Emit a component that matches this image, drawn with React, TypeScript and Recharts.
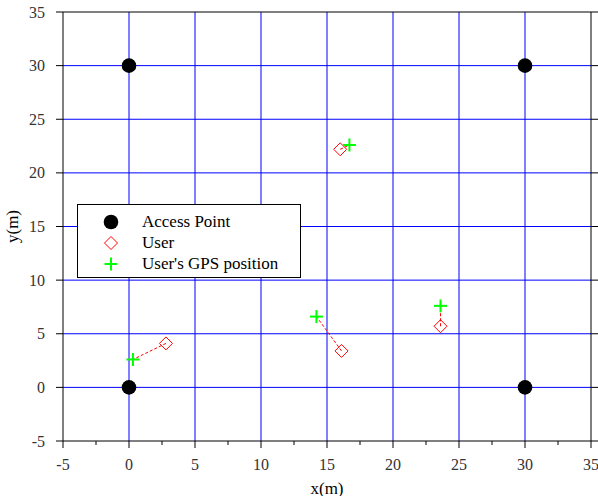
import React from 'react';
import { ScatterChart, Scatter, XAxis, YAxis, ReferenceLine, Legend } from 'recharts';

const FONT = "'Liberation Serif', 'Times New Roman', serif";

// positions in metres
const accessPoints = [
  { x: 0, y: 30 },
  { x: 30, y: 30 },
  { x: 0, y: 0 },
  { x: 30, y: 0 },
];
const users = [
  { x: 2.8, y: 4.1 },
  { x: 16.1, y: 3.4 },
  { x: 23.6, y: 5.7 },
  { x: 16.0, y: 22.2 },
];
const gpsPositions = [
  { x: 0.3, y: 2.6 },
  { x: 14.2, y: 6.6 },
  { x: 23.6, y: 7.6 },
  { x: 16.7, y: 22.6 },
];

const xTicks = [-5, -2.5, 0, 2.5, 5, 7.5, 10, 12.5, 15, 17.5, 20, 22.5, 25, 27.5, 30, 32.5, 35];
const yTicks = [-5, 0, 5, 10, 15, 20, 25, 30, 35];
const gridValues = [0, 5, 10, 15, 20, 25, 30];
const legendLabels = ['Access Point', 'User', "User's GPS position"];

const isMajor = (v: number) => v % 5 === 0;
const tickText = { fontFamily: FONT, fontSize: 16 };

const BottomTick = ({ x, y, payload }: any) => (
  <g>
    <line x1={x} y1={y} x2={x} y2={y + (isMajor(payload.value) ? 7 : 4)} stroke="#000" />
    {isMajor(payload.value) && (
      <text x={x} y={y + 23} textAnchor="middle" dominantBaseline="central" fill="#333" style={tickText}>
        {payload.value}
      </text>
    )}
  </g>
);

const TopTick = ({ x, y, payload }: any) => (
  <line x1={x} y1={y} x2={x} y2={y - (isMajor(payload.value) ? 7 : 4)} stroke="#000" />
);

const LeftTick = ({ x, y, payload }: any) => (
  <g>
    <line x1={x} y1={y} x2={x - 7} y2={y} stroke="#000" />
    <text x={x - 18} y={y} textAnchor="end" dominantBaseline="central" fill="#333" style={tickText}>
      {payload.value}
    </text>
  </g>
);

const RightTick = ({ x, y }: any) => <line x1={x} y1={y} x2={x + 7} y2={y} stroke="#000" />;

const Dot = ({ cx, cy }: any) => <circle cx={cx} cy={cy} r={7.3} fill="#000" />;
const Diamond = ({ cx, cy }: any) => (
  <polygon
    points={`${cx},${cy - 6.5} ${cx + 6.5},${cy} ${cx},${cy + 6.5} ${cx - 6.5},${cy}`}
    fill="none"
    stroke="#ff0000"
  />
);
const Plus = ({ cx, cy }: any) => (
  <g stroke="#00ff00" strokeWidth={2}>
    <line x1={cx - 6.5} y1={cy} x2={cx + 6.5} y2={cy} />
    <line x1={cx} y1={cy - 6.5} x2={cx} y2={cy + 6.5} />
  </g>
);

const icons = [<Dot cx={10} cy={10} />, <Diamond cx={10} cy={10} />, <Plus cx={10} cy={10} />];

const LegendBox = () => (
  <div
    style={{
      width: 224,
      height: 74,
      border: '1px solid #000',
      background: '#fff',
      fontFamily: FONT,
      fontSize: 17,
      color: '#000',
      paddingTop: 7,
      boxSizing: 'border-box',
    }}
  >
    {legendLabels.map((label, i) => (
      <div key={label} style={{ display: 'flex', alignItems: 'center', height: 20.8 }}>
        <svg width={20} height={20} style={{ marginLeft: 23, marginRight: 21 }}>
          {icons[i]}
        </svg>
        <span>{label}</span>
      </div>
    ))}
  </div>
);

export default function App() {
  return (
    <div style={{ position: 'absolute', left: 0, top: 0, background: '#fff' }}>
      <ScatterChart width={598} height={496} margin={{ top: 11, right: 6, bottom: 54, left: 62 }}>
        {gridValues.map((v) => (
          <ReferenceLine key={`gx${v}`} x={v} stroke="#0000ff" />
        ))}
        {gridValues.map((v) => (
          <ReferenceLine key={`gy${v}`} y={v} stroke="#0000ff" />
        ))}
        <XAxis
          type="number"
          dataKey="x"
          domain={[-5, 35]}
          ticks={xTicks}
          interval={0}
          height={1}
          tickSize={0}
          tickMargin={0}
          tickLine={false}
          tick={BottomTick}
          axisLine={{ stroke: '#000' }}
          allowDataOverflow
          label={() => (
            <text x={327} y={488} textAnchor="middle" dominantBaseline="central" fill="#000" style={{ fontFamily: FONT, fontSize: 17 }}>
              x(m)
            </text>
          )}
        />
        <XAxis
          xAxisId="top"
          orientation="top"
          type="number"
          domain={[-5, 35]}
          ticks={xTicks}
          interval={0}
          height={1}
          tickSize={0}
          tickMargin={0}
          tickLine={false}
          tick={TopTick}
          axisLine={{ stroke: '#000' }}
          allowDataOverflow
        />
        <YAxis
          type="number"
          dataKey="y"
          domain={[-5, 35]}
          ticks={yTicks}
          interval={0}
          width={1}
          tickSize={0}
          tickMargin={0}
          tickLine={false}
          tick={LeftTick}
          axisLine={{ stroke: '#000' }}
          allowDataOverflow
          label={({ viewBox }: any) => (
            <text
              x={12}
              y={viewBox.y + viewBox.height / 2}
              transform={`rotate(-90 12 ${viewBox.y + viewBox.height / 2})`}
              textAnchor="middle"
              dominantBaseline="central"
              fill="#000"
              style={{ fontFamily: FONT, fontSize: 17 }}
            >
              y(m)
            </text>
          )}
        />
        <YAxis
          yAxisId="right"
          orientation="right"
          type="number"
          domain={[-5, 35]}
          ticks={yTicks}
          interval={0}
          width={1}
          tickSize={0}
          tickMargin={0}
          tickLine={false}
          tick={RightTick}
          axisLine={{ stroke: '#000' }}
          allowDataOverflow
        />
        {users.map((u, i) => (
          <ReferenceLine
            key={i}
            segment={[
              { x: u.x, y: u.y },
              { x: gpsPositions[i].x, y: gpsPositions[i].y },
            ]}
            stroke="#ff0000"
            strokeDasharray="3 2"
          />
        ))}
        <Scatter name="Access Point" data={accessPoints} shape={Dot} isAnimationActive={false} />
        <Scatter name="User" data={users} shape={Diamond} isAnimationActive={false} />
        <Scatter name="User's GPS position" data={gpsPositions} shape={Plus} isAnimationActive={false} />
        <Legend
          layout="vertical"
          align="center"
          verticalAlign="middle"
          content={<LegendBox />}
          wrapperStyle={{ left: 77, top: 204, width: 224, height: 74 }}
        />
      </ScatterChart>
    </div>
  );
}
